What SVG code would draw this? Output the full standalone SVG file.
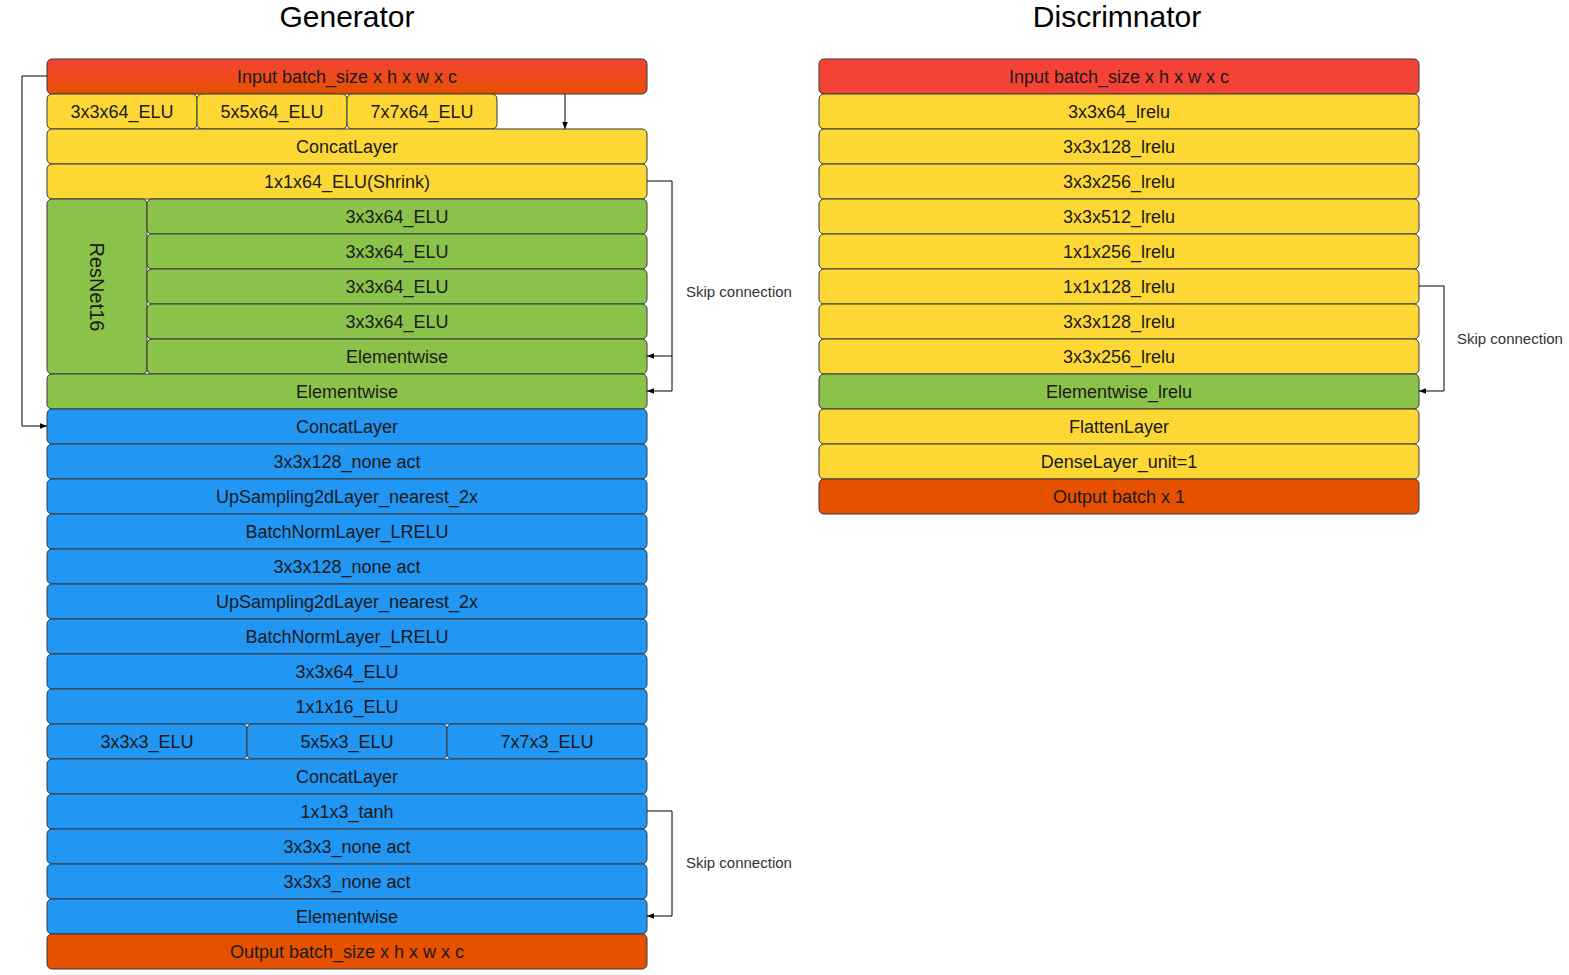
<svg xmlns="http://www.w3.org/2000/svg" width="1569" height="975" viewBox="0 0 1569 975">
  <defs>
    <linearGradient id="inGrad" x1="0" y1="0" x2="0" y2="1">
      <stop offset="0" stop-color="#F44336"/>
      <stop offset="1" stop-color="#E65100"/>
    </linearGradient>
    <marker id="arr" viewBox="0 0 10 10" refX="10" refY="5" markerWidth="7" markerHeight="7" orient="auto" markerUnits="userSpaceOnUse">
      <path d="M0,1 L10,5 L0,9 Z" fill="#000"/>
    </marker>
  </defs>
  <style>
    .n { stroke: #36393d; stroke-width: 1; }
    .red { fill: #F44336; }
    .grad { fill: url(#inGrad); }
    .yel { fill: #FDD835; }
    .grn { fill: #8BC34A; }
    .blu { fill: #2196F3; }
    .org { fill: #E65100; }
    text { font-family: "Liberation Sans", Arial, sans-serif; font-size: 18px; fill: #1a1a1a; text-anchor: middle; }
    .title { font-size: 30px; fill: #000; }
    .lbl { font-size: 15px; fill: #333; text-anchor: start; }
    .conn { fill: none; stroke: #000; stroke-width: 1; }
  </style>
  <rect width="1569" height="975" fill="#fff"/>

  <text class="title" x="347" y="27">Generator</text>
  <text class="title" x="1117" y="27">Discrimnator</text>

  <!-- Generator -->
  <g id="g-input"><rect class="n grad" x="47" y="59" width="600" height="35" rx="5"/><text x="347" y="83">Input batch_size x h x w x c</text></g>
  <g id="g-c3"><rect class="n yel" x="47" y="94" width="150" height="35" rx="5"/><text x="122" y="118">3x3x64_ELU</text></g>
  <g id="g-c5"><rect class="n yel" x="197" y="94" width="150" height="35" rx="5"/><text x="272" y="118">5x5x64_ELU</text></g>
  <g id="g-c7"><rect class="n yel" x="347" y="94" width="150" height="35" rx="5"/><text x="422" y="118">7x7x64_ELU</text></g>
  <g id="g-concat1"><rect class="n yel" x="47" y="129" width="600" height="35" rx="5"/><text x="347" y="153">ConcatLayer</text></g>
  <g id="g-shrink"><rect class="n yel" x="47" y="164" width="600" height="35" rx="5"/><text x="347" y="188">1x1x64_ELU(Shrink)</text></g>
  <g id="g-resnet"><rect class="n grn" x="47" y="199" width="100" height="175" rx="5"/><text x="97" y="287" transform="rotate(90 97 287)" dy="7" style="font-size:20px">ResNet16</text></g>
  <g id="g-res1"><rect class="n grn" x="147" y="199" width="500" height="35" rx="5"/><text x="397" y="223">3x3x64_ELU</text></g>
  <g id="g-res2"><rect class="n grn" x="147" y="234" width="500" height="35" rx="5"/><text x="397" y="258">3x3x64_ELU</text></g>
  <g id="g-res3"><rect class="n grn" x="147" y="269" width="500" height="35" rx="5"/><text x="397" y="293">3x3x64_ELU</text></g>
  <g id="g-res4"><rect class="n grn" x="147" y="304" width="500" height="35" rx="5"/><text x="397" y="328">3x3x64_ELU</text></g>
  <g id="g-res-elem"><rect class="n grn" x="147" y="339" width="500" height="35" rx="5"/><text x="397" y="363">Elementwise</text></g>
  <g id="g-elem1"><rect class="n grn" x="47" y="374" width="600" height="35" rx="5"/><text x="347" y="398">Elementwise</text></g>
  <g id="g-concat2"><rect class="n blu" x="47" y="409" width="600" height="35" rx="5"/><text x="347" y="433">ConcatLayer</text></g>
  <g id="g-conv128a"><rect class="n blu" x="47" y="444" width="600" height="35" rx="5"/><text x="347" y="468">3x3x128_none act</text></g>
  <g id="g-up1"><rect class="n blu" x="47" y="479" width="600" height="35" rx="5"/><text x="347" y="503">UpSampling2dLayer_nearest_2x</text></g>
  <g id="g-bn1"><rect class="n blu" x="47" y="514" width="600" height="35" rx="5"/><text x="347" y="538">BatchNormLayer_LRELU</text></g>
  <g id="g-conv128b"><rect class="n blu" x="47" y="549" width="600" height="35" rx="5"/><text x="347" y="573">3x3x128_none act</text></g>
  <g id="g-up2"><rect class="n blu" x="47" y="584" width="600" height="35" rx="5"/><text x="347" y="608">UpSampling2dLayer_nearest_2x</text></g>
  <g id="g-bn2"><rect class="n blu" x="47" y="619" width="600" height="35" rx="5"/><text x="347" y="643">BatchNormLayer_LRELU</text></g>
  <g id="g-conv64"><rect class="n blu" x="47" y="654" width="600" height="35" rx="5"/><text x="347" y="678">3x3x64_ELU</text></g>
  <g id="g-conv16"><rect class="n blu" x="47" y="689" width="600" height="35" rx="5"/><text x="347" y="713">1x1x16_ELU</text></g>
  <g id="g-o3"><rect class="n blu" x="47" y="724" width="200" height="35" rx="5"/><text x="147" y="748">3x3x3_ELU</text></g>
  <g id="g-o5"><rect class="n blu" x="247" y="724" width="200" height="35" rx="5"/><text x="347" y="748">5x5x3_ELU</text></g>
  <g id="g-o7"><rect class="n blu" x="447" y="724" width="200" height="35" rx="5"/><text x="547" y="748">7x7x3_ELU</text></g>
  <g id="g-concat3"><rect class="n blu" x="47" y="759" width="600" height="35" rx="5"/><text x="347" y="783">ConcatLayer</text></g>
  <g id="g-tanh"><rect class="n blu" x="47" y="794" width="600" height="35" rx="5"/><text x="347" y="818">1x1x3_tanh</text></g>
  <g id="g-none1"><rect class="n blu" x="47" y="829" width="600" height="35" rx="5"/><text x="347" y="853">3x3x3_none act</text></g>
  <g id="g-none2"><rect class="n blu" x="47" y="864" width="600" height="35" rx="5"/><text x="347" y="888">3x3x3_none act</text></g>
  <g id="g-elem2"><rect class="n blu" x="47" y="899" width="600" height="35" rx="5"/><text x="347" y="923">Elementwise</text></g>
  <g id="g-output"><rect class="n org" x="47" y="934" width="600" height="35" rx="5"/><text x="347" y="958">Output batch_size x h x w x c</text></g>

  <!-- Discriminator -->
  <g id="d-input"><rect class="n red" x="819" y="59" width="600" height="35" rx="5"/><text x="1119" y="83">Input batch_size x h x w x c</text></g>
  <g id="d-l1"><rect class="n yel" x="819" y="94" width="600" height="35" rx="5"/><text x="1119" y="118">3x3x64_lrelu</text></g>
  <g id="d-l2"><rect class="n yel" x="819" y="129" width="600" height="35" rx="5"/><text x="1119" y="153">3x3x128_lrelu</text></g>
  <g id="d-l3"><rect class="n yel" x="819" y="164" width="600" height="35" rx="5"/><text x="1119" y="188">3x3x256_lrelu</text></g>
  <g id="d-l4"><rect class="n yel" x="819" y="199" width="600" height="35" rx="5"/><text x="1119" y="223">3x3x512_lrelu</text></g>
  <g id="d-l5"><rect class="n yel" x="819" y="234" width="600" height="35" rx="5"/><text x="1119" y="258">1x1x256_lrelu</text></g>
  <g id="d-l6"><rect class="n yel" x="819" y="269" width="600" height="35" rx="5"/><text x="1119" y="293">1x1x128_lrelu</text></g>
  <g id="d-l7"><rect class="n yel" x="819" y="304" width="600" height="35" rx="5"/><text x="1119" y="328">3x3x128_lrelu</text></g>
  <g id="d-l8"><rect class="n yel" x="819" y="339" width="600" height="35" rx="5"/><text x="1119" y="363">3x3x256_lrelu</text></g>
  <g id="d-elem"><rect class="n grn" x="819" y="374" width="600" height="35" rx="5"/><text x="1119" y="398">Elementwise_lrelu</text></g>
  <g id="d-flat"><rect class="n yel" x="819" y="409" width="600" height="35" rx="5"/><text x="1119" y="433">FlattenLayer</text></g>
  <g id="d-dense"><rect class="n yel" x="819" y="444" width="600" height="35" rx="5"/><text x="1119" y="468">DenseLayer_unit=1</text></g>
  <g id="d-output"><rect class="n org" x="819" y="479" width="600" height="35" rx="5"/><text x="1119" y="503">Output batch x 1</text></g>

  <!-- Connectors -->
  <g id="connectors">
    <path class="conn" d="M47,76 H22 V426 H47" marker-end="url(#arr)"/>
    <path class="conn" d="M565,94 V129" marker-end="url(#arr)"/>
    <path class="conn" d="M647,181 H672 V356 H647" marker-end="url(#arr)"/>
    <path class="conn" d="M672,356 V391 H647" marker-end="url(#arr)"/>
    <path class="conn" d="M647,811 H672 V916 H647" marker-end="url(#arr)"/>
    <path class="conn" d="M1419,286 H1444 V391 H1419" marker-end="url(#arr)"/>
    <text class="lbl" x="686" y="297">Skip connection</text>
    <text class="lbl" x="686" y="868">Skip connection</text>
    <text class="lbl" x="1457" y="344">Skip connection</text>
  </g>
</svg>
